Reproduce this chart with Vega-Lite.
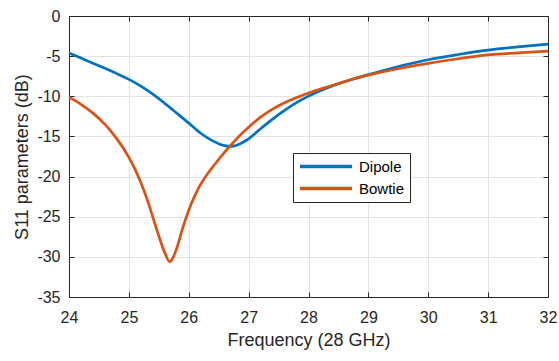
{
  "$schema": "https://vega.github.io/schema/vega-lite/v6.json",
  "width": 479,
  "height": 281,
  "autosize": {"type": "none"},
  "padding": {"left": 69, "top": 16, "right": 11, "bottom": 64},
  "background": "white",
  "config": {
    "view": {"stroke": null},
    "font": "Liberation Sans",
    "axis": {
      "domainColor": "#262626",
      "domainWidth": 1,
      "tickColor": "#262626",
      "tickSize": -5,
      "labelColor": "#262626",
      "labelFont": "Liberation Sans",
      "labelFontSize": 16,
      "labelFlush": false,
      "titleFont": "Liberation Sans",
      "titleFontSize": 18,
      "titleFontWeight": "normal",
      "titleColor": "#262626",
      "gridColor": "#e3e3e3",
      "gridWidth": 1
    },
    "legend": {
      "orient": "none",
      "legendX": 224,
      "legendY": 137,
      "strokeColor": "#262626",
      "fillColor": "white",
      "padding": 5,
      "rowPadding": 5,
      "symbolType": "M-1,0L7,0",
      "symbolSize": 169,
      "symbolStrokeWidth": 3.5,
      "symbolFillColor": "transparent",
      "labelOffset": 44,
      "labelFont": "Liberation Sans",
      "labelFontSize": 15,
      "labelColor": "#000000",
      "title": null
    }
  },
  "data": {
    "values": [
      {"f": 24.0, "s": -4.6, "series": "Dipole"},
      {"f": 24.2, "s": -5.24, "series": "Dipole"},
      {"f": 24.4, "s": -5.88, "series": "Dipole"},
      {"f": 24.6, "s": -6.52, "series": "Dipole"},
      {"f": 24.8, "s": -7.18, "series": "Dipole"},
      {"f": 25.0, "s": -7.9, "series": "Dipole"},
      {"f": 25.2, "s": -8.74, "series": "Dipole"},
      {"f": 25.4, "s": -9.74, "series": "Dipole"},
      {"f": 25.6, "s": -10.88, "series": "Dipole"},
      {"f": 25.8, "s": -12.1, "series": "Dipole"},
      {"f": 26.0, "s": -13.34, "series": "Dipole"},
      {"f": 26.2, "s": -14.6, "series": "Dipole"},
      {"f": 26.4, "s": -15.55, "series": "Dipole"},
      {"f": 26.5, "s": -15.9, "series": "Dipole"},
      {"f": 26.6, "s": -16.15, "series": "Dipole"},
      {"f": 26.7, "s": -16.25, "series": "Dipole"},
      {"f": 26.8, "s": -16.1, "series": "Dipole"},
      {"f": 26.9, "s": -15.75, "series": "Dipole"},
      {"f": 27.0, "s": -15.3, "series": "Dipole"},
      {"f": 27.2, "s": -14.05, "series": "Dipole"},
      {"f": 27.4, "s": -12.85, "series": "Dipole"},
      {"f": 27.6, "s": -11.75, "series": "Dipole"},
      {"f": 27.8, "s": -10.8, "series": "Dipole"},
      {"f": 28.0, "s": -9.98, "series": "Dipole"},
      {"f": 28.25, "s": -9.15, "series": "Dipole"},
      {"f": 28.5, "s": -8.45, "series": "Dipole"},
      {"f": 28.75, "s": -7.85, "series": "Dipole"},
      {"f": 29.0, "s": -7.3, "series": "Dipole"},
      {"f": 29.25, "s": -6.78, "series": "Dipole"},
      {"f": 29.5, "s": -6.3, "series": "Dipole"},
      {"f": 29.75, "s": -5.86, "series": "Dipole"},
      {"f": 30.0, "s": -5.45, "series": "Dipole"},
      {"f": 30.5, "s": -4.8, "series": "Dipole"},
      {"f": 31.0, "s": -4.25, "series": "Dipole"},
      {"f": 31.5, "s": -3.85, "series": "Dipole"},
      {"f": 32.0, "s": -3.5, "series": "Dipole"},
      {"f": 24.0, "s": -10.1, "series": "Bowtie"},
      {"f": 24.2, "s": -11.0, "series": "Bowtie"},
      {"f": 24.4, "s": -12.1, "series": "Bowtie"},
      {"f": 24.6, "s": -13.5, "series": "Bowtie"},
      {"f": 24.8, "s": -15.3, "series": "Bowtie"},
      {"f": 25.0, "s": -17.6, "series": "Bowtie"},
      {"f": 25.1, "s": -19.05, "series": "Bowtie"},
      {"f": 25.2, "s": -20.75, "series": "Bowtie"},
      {"f": 25.3, "s": -22.75, "series": "Bowtie"},
      {"f": 25.4, "s": -25.05, "series": "Bowtie"},
      {"f": 25.5, "s": -27.4, "series": "Bowtie"},
      {"f": 25.6, "s": -29.5, "series": "Bowtie"},
      {"f": 25.68, "s": -30.6, "series": "Bowtie"},
      {"f": 25.75, "s": -29.9, "series": "Bowtie"},
      {"f": 25.8, "s": -28.9, "series": "Bowtie"},
      {"f": 25.9, "s": -26.4, "series": "Bowtie"},
      {"f": 26.0, "s": -24.2, "series": "Bowtie"},
      {"f": 26.1, "s": -22.4, "series": "Bowtie"},
      {"f": 26.2, "s": -20.95, "series": "Bowtie"},
      {"f": 26.3, "s": -19.8, "series": "Bowtie"},
      {"f": 26.4, "s": -18.8, "series": "Bowtie"},
      {"f": 26.5, "s": -17.85, "series": "Bowtie"},
      {"f": 26.6, "s": -16.95, "series": "Bowtie"},
      {"f": 26.7, "s": -16.1, "series": "Bowtie"},
      {"f": 26.8, "s": -15.3, "series": "Bowtie"},
      {"f": 26.9, "s": -14.55, "series": "Bowtie"},
      {"f": 27.0, "s": -13.85, "series": "Bowtie"},
      {"f": 27.2, "s": -12.6, "series": "Bowtie"},
      {"f": 27.4, "s": -11.6, "series": "Bowtie"},
      {"f": 27.6, "s": -10.8, "series": "Bowtie"},
      {"f": 27.8, "s": -10.15, "series": "Bowtie"},
      {"f": 28.0, "s": -9.6, "series": "Bowtie"},
      {"f": 28.25, "s": -8.98, "series": "Bowtie"},
      {"f": 28.5, "s": -8.4, "series": "Bowtie"},
      {"f": 28.75, "s": -7.84, "series": "Bowtie"},
      {"f": 29.0, "s": -7.37, "series": "Bowtie"},
      {"f": 29.25, "s": -6.95, "series": "Bowtie"},
      {"f": 29.5, "s": -6.57, "series": "Bowtie"},
      {"f": 29.75, "s": -6.22, "series": "Bowtie"},
      {"f": 30.0, "s": -5.9, "series": "Bowtie"},
      {"f": 30.5, "s": -5.32, "series": "Bowtie"},
      {"f": 31.0, "s": -4.85, "series": "Bowtie"},
      {"f": 31.5, "s": -4.6, "series": "Bowtie"},
      {"f": 32.0, "s": -4.38, "series": "Bowtie"}
    ]
  },
  "encoding": {
    "x": {"field": "f", "type": "quantitative", "scale": {"domain": [24, 32], "nice": false, "zero": false}},
    "y": {"field": "s", "type": "quantitative", "scale": {"domain": [-35, 0], "nice": false, "zero": false}},
    "color": {"field": "series", "type": "nominal", "scale": {"domain": ["Dipole", "Bowtie"], "range": ["#0072BD", "#D95319"]}}
  },
  "layer": [
    {
      "mark": {"type": "line", "strokeWidth": 2.7, "interpolate": "monotone"},
      "encoding": {
        "x": {"field": "f", "type": "quantitative", "scale": {"domain": [24, 32], "nice": false, "zero": false},
          "axis": {"orient": "bottom", "values": [24,25,26,27,28,29,30,31,32], "title": "Frequency (28 GHz)", "labelPadding": 17, "titlePadding": 6, "grid": true}},
        "y": {"field": "s", "type": "quantitative", "scale": {"domain": [-35, 0], "nice": false, "zero": false},
          "axis": {"orient": "left", "values": [-35,-30,-25,-20,-15,-10,-5,0], "labelExpr": "datum.value + ''", "title": "S11 parameters (dB)", "labelPadding": 14, "titlePadding": 5, "grid": true}}
      }
    },
    {
      "mark": {"type": "line", "strokeOpacity": 0},
      "encoding": {
        "x": {"field": "f", "type": "quantitative", "scale": {"domain": [24, 32], "nice": false, "zero": false},
          "axis": {"orient": "top", "values": [24,25,26,27,28,29,30,31,32], "labels": false, "title": null, "grid": false}},
        "y": {"field": "s", "type": "quantitative", "scale": {"domain": [-35, 0], "nice": false, "zero": false},
          "axis": {"orient": "right", "values": [-35,-30,-25,-20,-15,-10,-5,0], "labels": false, "title": null, "grid": false}}
      }
    }
  ],
  "resolve": {"axis": {"x": "independent", "y": "independent"}}
}
